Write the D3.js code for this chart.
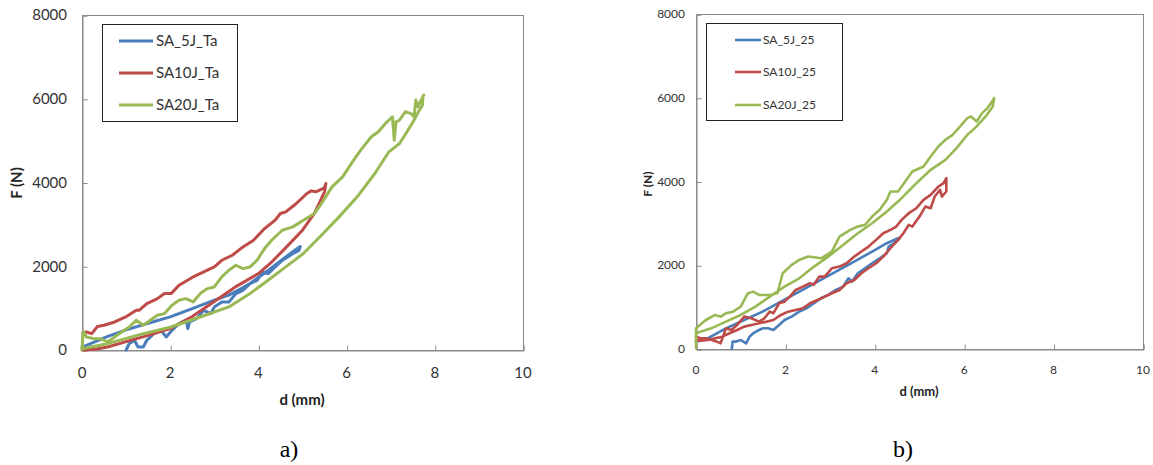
<!DOCTYPE html>
<html>
<head>
<meta charset="utf-8">
<script src="https://cdn.jsdelivr.net/npm/d3@7"></script>
<style>
  body { margin: 0; background: #fff; }
  svg { display: block; }
</style>
</head>
<body>
<div id="wrapper"></div>
<script>
// tick values and labels
const xTicks = [0, 2, 4, 6, 8, 10]
const yTicks = [0, 2000, 4000, 6000, 8000]

// panel a) series, [d (mm), F (N)] in drawing order
const sa5J_Ta = [[0,60],[0.3,200],[0.6,330],[1,480],[1.5,640],[2,790],[2.5,990],[3,1190],[3.33,1310],[3.6,1460],[3.81,1590],[4.22,1900],[4.62,2220],[4.85,2400],[4.95,2470],[4.92,2380],[4.78,2300],[4.54,2140],[4.38,1985],[4.22,1825],[4.1,1865],[3.97,1665],[3.81,1586],[3.65,1426],[3.49,1347],[3.33,1147],[3.17,1147],[3.0,1028],[2.92,869],[2.76,948],[2.6,749],[2.44,669],[2.4,510],[2.36,709],[2.2,629],[2.04,470],[1.91,311],[1.79,470],[1.63,390],[1.47,231],[1.39,72],[1.27,72],[1.19,231],[1.07,151],[1.0,0]]
const sa10J_Ta = [[0,0],[0.3,20],[0.58,72],[1,200],[1.5,350],[2,510],[2.5,800],[3,1160],[3.5,1520],[4,1825],[4.3,2100],[4.6,2420],[5,2860],[5.27,3260],[5.5,3777],[5.53,3976],[5.5,3880],[5.45,3850],[5.3,3777],[5.2,3800],[5.1,3737],[4.86,3498],[4.62,3299],[4.5,3260],[4.38,3100],[4.14,2900],[3.89,2621],[3.65,2462],[3.41,2263],[3.17,2143],[3.0,1984],[2.76,1864],[2.52,1745],[2.2,1546],[2.02,1347],[1.87,1347],[1.71,1227],[1.47,1107],[1.3,950],[1.23,948],[0.99,789],[0.74,669],[0.5,590],[0.35,560],[0.22,390],[0.1,430],[0.02,410]]
const sa20J_Ta = [[0,0],[0.02,390],[0.04,430],[0.1,311],[0.26,271],[0.42,271],[0.58,191],[0.74,311],[0.9,430],[1.07,550],[1.23,709],[1.39,590],[1.55,709],[1.71,829],[1.87,869],[2.04,1068],[2.2,1187],[2.36,1227],[2.52,1147],[2.68,1347],[2.84,1466],[3.0,1506],[3.17,1745],[3.33,1904],[3.49,2024],[3.65,1944],[3.81,1984],[3.97,2143],[4.14,2422],[4.3,2621],[4.54,2860],[4.78,2940],[5.02,3100],[5.27,3260],[5.43,3498],[5.67,3896],[5.91,4135],[6.16,4534],[6.32,4773],[6.56,5092],[6.72,5211],[6.88,5410],[7.04,5570],[7.08,5012],[7.12,5450],[7.2,5490],[7.33,5689],[7.45,5650],[7.53,5570],[7.57,5968],[7.61,5809],[7.69,5968],[7.75,6088],[7.73,6048],[7.72,5850],[7.65,5729],[7.53,5490],[7.37,5211],[7.2,4932],[6.96,4733],[6.64,4215],[6.24,3657],[5.83,3179],[5.43,2741],[5.02,2303],[4.62,1984],[4.22,1665],[3.81,1347],[3.33,1028],[2.68,789],[2.02,550],[1.39,390],[0.58,151],[0,30]]

// panel b) series
const sa5J_25 = [[0,175],[0.26,255],[0.67,494],[1.08,693],[1.49,892],[1.9,1131],[2.31,1370],[2.72,1610],[3.13,1849],[3.54,2088],[3.94,2327],[4.27,2526],[4.52,2645],[4.56,2650],[4.44,2526],[4.31,2446],[4.27,2287],[4.11,2167],[3.94,2048],[3.78,1928],[3.62,1809],[3.49,1610],[3.41,1689],[3.29,1490],[3.13,1410],[2.96,1291],[2.8,1211],[2.64,1092],[2.47,972],[2.31,892],[2.14,773],[1.98,693],[1.86,574],[1.73,454],[1.61,494],[1.49,494],[1.41,454],[1.28,375],[1.2,295],[1.12,135],[1.0,215],[0.88,175],[0.82,175],[0.8,0]]
const sa10J_25 = [[0,295],[0.1,255],[0.22,255],[0.35,215],[0.47,175],[0.55,135],[0.67,494],[0.79,454],[0.92,574],[1.08,773],[1.24,733],[1.41,653],[1.53,733],[1.65,892],[1.73,853],[1.86,1092],[1.98,1131],[2.1,1251],[2.23,1410],[2.39,1490],[2.55,1570],[2.63,1530],[2.76,1729],[2.88,1729],[3.04,1928],[3.21,1968],[3.37,2048],[3.54,2207],[3.7,2327],[3.86,2446],[4.03,2606],[4.19,2765],[4.35,2845],[4.48,2924],[4.6,3084],[4.76,3243],[4.93,3362],[5.09,3562],[5.25,3681],[5.42,3880],[5.54,3960],[5.6,4080],[5.6,3761],[5.5,3641],[5.46,3801],[5.34,3641],[5.25,3362],[5.13,3402],[5.0,3163],[4.84,2924],[4.76,2964],[4.64,2765],[4.52,2606],[4.35,2406],[4.19,2207],[4.03,2048],[3.86,1928],[3.7,1809],[3.54,1649],[3.37,1570],[3.21,1410],[3.04,1331],[2.88,1251],[2.72,1171],[2.55,1092],[2.39,972],[2.23,932],[2.06,892],[1.9,813],[1.73,693],[1.57,653],[1.41,614],[1.24,574],[1.08,534],[0.92,454],[0.75,375],[0.59,295],[0.43,255],[0.26,215],[0.1,199],[0,199]]
const sa20J_25 = [[0,20],[0,494],[0.22,693],[0.43,813],[0.55,773],[0.67,853],[0.83,892],[1.0,1012],[1.16,1331],[1.28,1370],[1.41,1291],[1.65,1291],[1.82,1331],[1.94,1809],[2.14,2008],[2.31,2127],[2.51,2207],[2.8,2167],[3.04,2327],[3.21,2685],[3.45,2845],[3.62,2924],[3.78,2964],[3.94,3163],[4.11,3323],[4.27,3562],[4.35,3761],[4.52,3761],[4.68,4000],[4.84,4239],[5.09,4358],[5.25,4598],[5.42,4837],[5.58,4996],[5.74,5115],[5.91,5315],[6.07,5514],[6.15,5554],[6.28,5434],[6.4,5633],[6.52,5753],[6.6,5873],[6.67,5992],[6.64,5793],[6.48,5554],[6.24,5275],[6.07,5115],[5.83,4797],[5.58,4518],[5.25,4279],[4.93,3960],[4.6,3602],[4.27,3283],[3.94,3004],[3.62,2765],[3.29,2486],[2.96,2207],[2.64,1968],[2.31,1689],[1.98,1490],[1.65,1251],[1.33,1012],[1.0,813],[0.67,653],[0.34,494],[0.1,414],[0,375]]

const colors = ["#4a7ebb", "#be4b48", "#98b954"]

const panels = [
  {
    series: [sa5J_Ta, sa10J_Ta, sa20J_Ta],
    names: ["SA_5J_Ta", "SA10J_Ta", "SA20J_Ta"],
    left: 82, right: 523, top: 15, bottom: 350,
    tickFont: 15, xLabelY: 378, yLabelX: 67,
    legend: { x0: 102, x1: 237, y0: 24, y1: 121, rows: [41, 73, 105], lx0: 119, lx1: 153, tx: 156, font: 15 },
    yTitle: { x: 17, y: 183, font: 15 },
    xTitle: { x: 302, y: 405, font: 15 },
    tag: { text: "a)", x: 289, y: 457 },
    lineWidth: 3,
  },
  {
    series: [sa5J_25, sa10J_25, sa20J_25],
    names: ["SA_5J_25", "SA10J_25", "SA20J_25"],
    left: 696, right: 1143, top: 14, bottom: 349,
    tickFont: 12, xLabelY: 374, yLabelX: 685,
    legend: { x0: 706, x1: 842, y0: 23, y1: 120, rows: [40, 72, 105], lx0: 735, lx1: 761, tx: 763, font: 12 },
    yTitle: { x: 648, y: 184, font: 12 },
    xTitle: { x: 919, y: 396, font: 13 },
    tag: { text: "b)", x: 903, y: 457 },
    lineWidth: 2.6,
  },
]

const svg = d3.select("#wrapper")
  .append("svg")
    .attr("width", 1153)
    .attr("height", 465)
    .style("font-family", "Lato, 'Liberation Sans', sans-serif")

panels.forEach(p => {
  const g = svg.append("g")

  const xScale = d3.scaleLinear().domain([0, 10]).range([p.left, p.right])
  const yScale = d3.scaleLinear().domain([0, 8000]).range([p.bottom, p.top])

  // plot frame
  g.append("rect")
    .attr("x", p.left + 0.5)
    .attr("y", p.top + 0.5)
    .attr("width", p.right - p.left)
    .attr("height", p.bottom - p.top)
    .attr("fill", "none")
    .attr("stroke", "#8a8a8a")
    .attr("stroke-width", 1)

  // axes with inward ticks
  const xAxis = g.append("g")
    .attr("transform", `translate(0.5, ${p.bottom + 0.5})`)
    .call(d3.axisTop(xScale).tickValues(xTicks).tickSize(5).tickFormat(""))
  const yAxis = g.append("g")
    .attr("transform", `translate(${p.left + 0.5}, 0.5)`)
    .call(d3.axisRight(yScale).tickValues(yTicks).tickSize(5).tickFormat(""))
  ;[xAxis, yAxis].forEach(a => {
    a.select(".domain").attr("stroke", "#8a8a8a")
    a.selectAll(".tick line").attr("stroke", "#8a8a8a")
  })

  // tick labels
  g.selectAll(".xlab")
    .data(xTicks)
    .join("text")
      .attr("x", d => xScale(d))
      .attr("y", p.xLabelY)
      .attr("text-anchor", "middle")
      .attr("font-size", p.tickFont)
      .attr("fill", "#333")
      .text(d => d)
  g.selectAll(".ylab")
    .data(yTicks)
    .join("text")
      .attr("x", p.yLabelX)
      .attr("y", d => yScale(d))
      .attr("dy", "0.35em")
      .attr("text-anchor", "end")
      .attr("font-size", p.tickFont)
      .attr("fill", "#333")
      .text(d => d)

  // curves
  const lineGenerator = d3.line()
    .x(d => xScale(d[0]))
    .y(d => yScale(d[1]))

  p.series.forEach((s, i) => {
    g.append("path")
      .attr("d", lineGenerator(s))
      .attr("fill", "none")
      .attr("stroke", colors[i])
      .attr("stroke-width", p.lineWidth)
      .attr("stroke-linejoin", "round")
      .attr("stroke-linecap", "round")
  })

  // legend
  const L = p.legend
  g.append("rect")
    .attr("x", L.x0 + 0.5)
    .attr("y", L.y0 + 0.5)
    .attr("width", L.x1 - L.x0)
    .attr("height", L.y1 - L.y0)
    .attr("fill", "#fff")
    .attr("stroke", "#222")
    .attr("stroke-width", 1)
  p.names.forEach((name, i) => {
    g.append("line")
      .attr("x1", L.lx0).attr("x2", L.lx1)
      .attr("y1", L.rows[i]).attr("y2", L.rows[i])
      .attr("stroke", colors[i])
      .attr("stroke-width", p.lineWidth)
    g.append("text")
      .attr("x", L.tx)
      .attr("y", L.rows[i])
      .attr("dy", "0.35em")
      .attr("font-size", L.font)
      .attr("fill", "#333")
      .text(name)
  })

  // axis titles
  g.append("text")
    .attr("transform", `translate(${p.yTitle.x}, ${p.yTitle.y}) rotate(-90)`)
    .attr("text-anchor", "middle")
    .attr("dy", "0.35em")
    .attr("font-size", p.yTitle.font)
    .attr("font-weight", "bold")
    .attr("fill", "#222")
    .text("F (N)")
  g.append("text")
    .attr("x", p.xTitle.x)
    .attr("y", p.xTitle.y)
    .attr("text-anchor", "middle")
    .attr("font-size", p.xTitle.font)
    .attr("font-weight", "bold")
    .attr("fill", "#222")
    .text("d (mm)")

  // panel tag
  g.append("text")
    .attr("x", p.tag.x)
    .attr("y", p.tag.y)
    .attr("text-anchor", "middle")
    .attr("font-family", "'Liberation Serif', 'Times New Roman', serif")
    .attr("font-size", 24)
    .attr("fill", "#000")
    .text(p.tag.text)
})
</script>
</body>
</html>
